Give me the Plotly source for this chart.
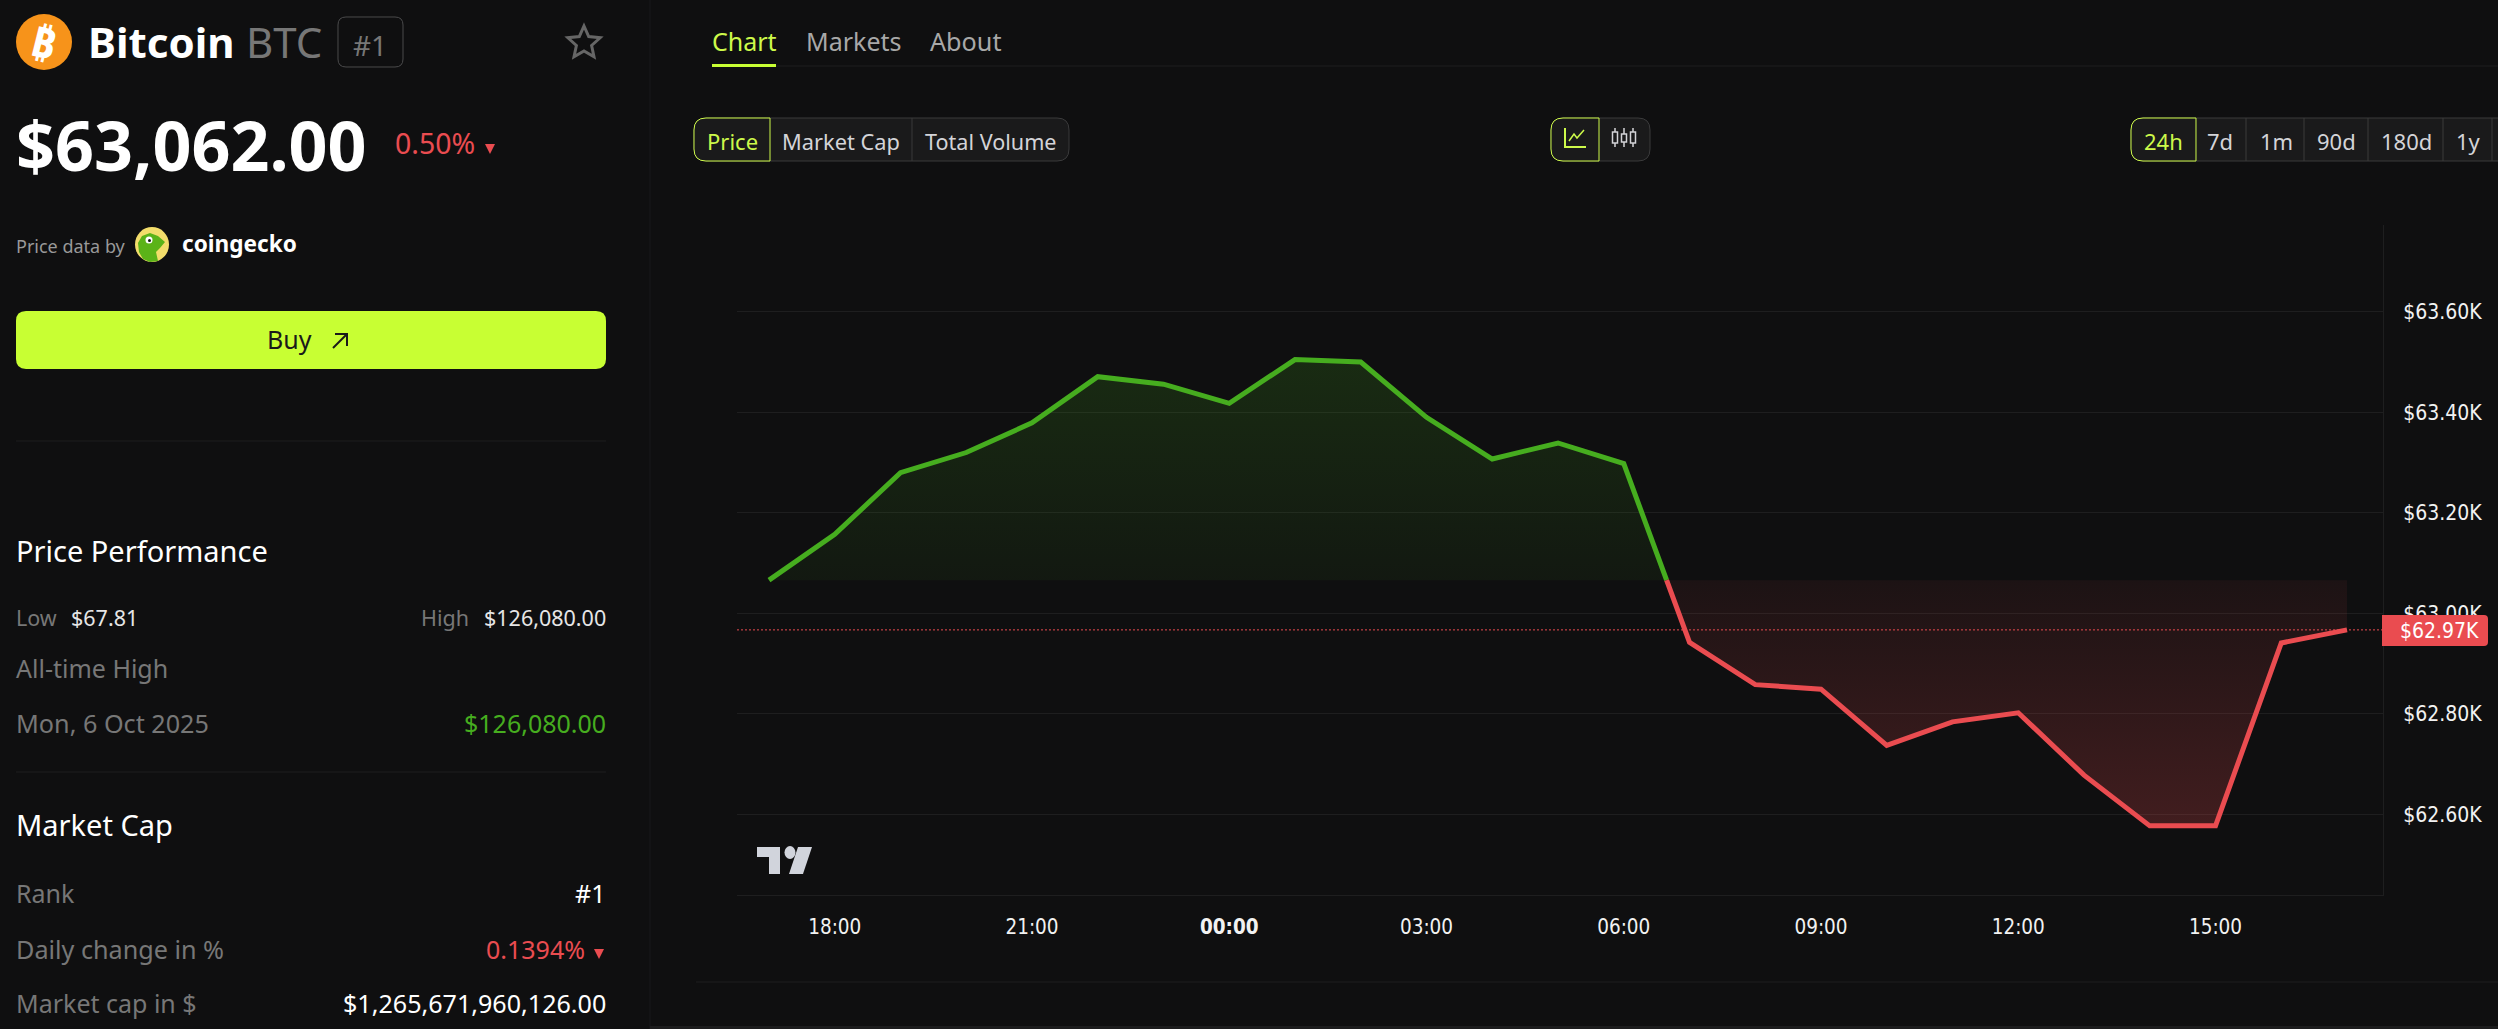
import numpy as np
import pandas as pd
import plotly.graph_objects as go

# ---------- data ----------
start_time = "2026-03-10 17:00"
prices = [63066, 63157, 63280, 63320, 63379, 63471, 63456, 63418, 63505, 63500,
          63390, 63307, 63339, 63298, 62942, 62858, 62849, 62737, 62784, 62802,
          62678, 62577, 62577, 62941, 62967]
baseline = 63066
y_ticks = [62600, 62800, 63000, 63200, 63400, 63600]
y_labels = ["$62.60K", "$62.80K", "$63.00K", "$63.20K", "$63.40K", "$63.60K"]
x_ticks = ["2026-03-10 18:00", "2026-03-10 21:00", "2026-03-11 00:00", "2026-03-11 03:00",
           "2026-03-11 06:00", "2026-03-11 09:00", "2026-03-11 12:00", "2026-03-11 15:00"]
x_labels = ["18:00", "21:00", "<b>00:00</b>", "03:00", "06:00", "09:00", "12:00", "15:00"]
last_label = "$62.97K"

# ---------- palette ----------
BG = "#0f0f10"
GREEN = "#46ad1f"
RED = "#ea4c50"
LIME = "#c8ff33"
LIME_TXT = "#cdf94a"
LINE = "#1e1e1f"
BTN = "#1a1a1b"
BTN_B = "#3a3a3b"
GREY = "#777777"
SANS = "Noto Sans"
TV = "DejaVu Sans Condensed"

W, H = 2498, 1029
L, R, T, B = 737, 2383, 225, 895

times = pd.date_range(start_time, periods=len(prices), freq="h")
vals = np.array(prices, dtype=float)
idx = int(np.argmax(vals[1:] < baseline)) + 1
frac = (vals[idx - 1] - baseline) / (vals[idx - 1] - vals[idx])
cross = times[idx - 1] + (times[idx] - times[idx - 1]) * frac

x_up = list(times[:idx]) + [cross]
y_up = list(vals[:idx]) + [baseline]
x_dn = [cross] + list(times[idx:])
y_dn = [baseline] + list(vals[idx:])

fig = go.Figure()
fig.add_trace(go.Scatter(x=x_up, y=[baseline] * len(x_up), mode="lines",
                         line=dict(width=0, color=BG), showlegend=False, hoverinfo="skip"))
fig.add_trace(go.Scatter(x=x_up, y=y_up, mode="lines", line=dict(color=GREEN, width=5),
                         fill="tonexty",
                         fillgradient=dict(type="vertical", start=baseline, stop=max(prices),
                                           colorscale=[[0, "rgba(70,172,30,0.06)"], [1, "rgba(70,172,30,0.18)"]]),
                         showlegend=False, hoverinfo="skip"))
fig.add_trace(go.Scatter(x=x_dn, y=[baseline] * len(x_dn), mode="lines",
                         line=dict(width=0, color=BG), showlegend=False, hoverinfo="skip"))
fig.add_trace(go.Scatter(x=x_dn, y=y_dn, mode="lines", line=dict(color=RED, width=5),
                         fill="tonexty",
                         fillgradient=dict(type="vertical", start=min(prices), stop=baseline,
                                           colorscale=[[0, "rgba(234,76,80,0.23)"], [1, "rgba(234,76,80,0.06)"]]),
                         showlegend=False, hoverinfo="skip"))


def px(x):
    return (x - L) / (R - L)


def py(y):
    return (B - y) / (B - T)


shapes, notes = [], []


def text(s, x, y, size, color="#ffffff", anchor="left", bold=False, family=SANS, angle=0):
    notes.append(dict(text=f"<b>{s}</b>" if bold else s, x=px(x), y=py(y), xref="paper", yref="paper",
                      xanchor=anchor, yanchor="middle", showarrow=False, textangle=angle,
                      font=dict(family=family, size=size, color=color), borderpad=0, borderwidth=0))


def path(points, close=False, fill=None, stroke=None, width=1):
    d = "M " + " L ".join(f"{px(a):.6f},{py(b):.6f}" for a, b in points) + (" Z" if close else "")
    shapes.append(dict(type="path", path=d, xref="paper", yref="paper", layer="above",
                       fillcolor=fill or "rgba(0,0,0,0)",
                       line=dict(color=stroke or "rgba(0,0,0,0)", width=width if stroke else 0)))


def rrect(x0, y0, x1, y1, rl=0, rr=0, fill=None, stroke=None, width=1):
    X0, X1, Y0, Y1 = px(x0), px(x1), py(y0), py(y1)
    kx, ky = 1 / (R - L), 1 / (B - T)
    d = (f"M {X0 + rl * kx:.6f},{Y0:.6f} L {X1 - rr * kx:.6f},{Y0:.6f} "
         f"Q {X1:.6f},{Y0:.6f} {X1:.6f},{Y0 - rr * ky:.6f} L {X1:.6f},{Y1 + rr * ky:.6f} "
         f"Q {X1:.6f},{Y1:.6f} {X1 - rr * kx:.6f},{Y1:.6f} L {X0 + rl * kx:.6f},{Y1:.6f} "
         f"Q {X0:.6f},{Y1:.6f} {X0:.6f},{Y1 + rl * ky:.6f} L {X0:.6f},{Y0 - rl * ky:.6f} "
         f"Q {X0:.6f},{Y0:.6f} {X0 + rl * kx:.6f},{Y0:.6f} Z")
    shapes.append(dict(type="path", path=d, xref="paper", yref="paper", layer="above",
                       fillcolor=fill or "rgba(0,0,0,0)",
                       line=dict(color=stroke or "rgba(0,0,0,0)", width=width if stroke else 0)))


def circle(cx, cy, rx, ry=None, fill=None):
    ry = ry or rx
    shapes.append(dict(type="circle", xref="paper", yref="paper", layer="above",
                       x0=px(cx - rx), x1=px(cx + rx), y0=py(cy + ry), y1=py(cy - ry),
                       fillcolor=fill, line=dict(width=0)))


def hline(x0, x1, y, color=LINE, width=1):
    path([(x0, y), (x1, y)], stroke=color, width=width)


def tri(cx, cy, color=RED):
    path([(cx - 5, cy - 5), (cx + 5, cy - 5), (cx, cy + 5)], close=True, fill=color)


# ---------- sidebar ----------
path([(650, 0), (650, 1029)], stroke="#19191a", width=1)
circle(44, 42, 28, fill="#f7931a")
text("₿", 44, 41, 42, "#ffffff", "center", True, angle=14)
text("Bitcoin", 88, 42, 42, "#ffffff", bold=True)
text("BTC", 246, 42, 42, GREY)
rrect(338, 17, 403, 67, 8, 8, stroke="#4a4a4b", width=1)
text("#1", 370, 45, 28, GREY, "center")
star = []
for k in range(10):
    r = 17 if k % 2 == 0 else 8
    a = -np.pi / 2 + k * np.pi / 5
    star.append((584 + r * np.cos(a), 43 + r * np.sin(a)))
path(star, close=True, stroke="#666666", width=3)

text("$63,062.00", 16, 144, 68.2, "#ffffff", bold=True)
text("0.50%", 395, 143, 28.5, RED)
tri(490, 149)

text("Price data by", 16, 246, 18, "#999999")
circle(152, 244.5, 17, 17.5, fill="#f3dd6b")
path([(139, 252), (138, 243), (142, 236), (150, 233), (158, 236), (165, 242), (160, 248), (156, 252),
      (158, 261), (150, 262), (143, 259)], close=True, fill="#5bb318")
circle(149, 240, 3.5, fill="#ffffff")
circle(149.5, 240.5, 1.5, fill="#111111")
text("coingecko", 182, 243, 22.6, "#ffffff", bold=True)

rrect(16, 311, 606, 369, 10, 10, fill=LIME)
text("Buy", 289, 339, 25, "#1a1a1a", "center")
path([(333, 348), (347, 334)], stroke="#1a1a1a", width=2)
path([(335, 334), (347, 334), (347, 346)], stroke="#1a1a1a", width=2)
hline(16, 606, 441)

text("Price Performance", 16, 550, 29)
text("Low", 16, 617, 21.5, GREY)
text("$67.81", 71, 617, 21.5, "#e6e6e6")
text("High", 469, 617, 21.5, GREY, "right")
text("$126,080.00", 606, 617, 21.5, "#e6e6e6", "right")
text("All-time High", 16, 668, 25, GREY)
text("Mon, 6 Oct 2025", 16, 723, 25.2, GREY)
text("$126,080.00", 606, 723, 25, GREEN, "right")
hline(16, 606, 772)
text("Market Cap", 16, 824, 29)
text("Rank", 16, 893, 25, GREY)
text("#1", 605, 893, 25, "#ffffff", "right")
text("Daily change in %", 16, 949, 25.2, GREY)
text("0.1394%", 585, 949, 25, RED, "right")
tri(599, 954)
text("Market cap in $", 16, 1003, 25, GREY)
text("$1,265,671,960,126.00", 606, 1003, 25.1, "#ffffff", "right")

# ---------- tabs ----------
text("Chart", 712, 41, 25, LIME_TXT)
text("Markets", 806, 41, 25, "#a8a8a8")
text("About", 930, 41, 25.2, "#a8a8a8")
hline(712, 2498, 66)
path([(712, 65.5), (776, 65.5)], stroke=LIME, width=3)

# ---------- button groups ----------
rrect(694, 118, 1069, 161, 12, 12, fill=BTN, stroke=BTN_B)
path([(912, 118), (912, 161)], stroke=BTN_B)
rrect(694, 118, 770, 161, 12, 0, fill=BTN, stroke=LIME_TXT)
text("Price", 732, 141, 22, LIME_TXT, "center")
text("Market Cap", 841, 141, 21.8, "#d4d4d8", "center")
text("Total Volume", 991, 141, 21.6, "#d4d4d8", "center")

rrect(1551, 118, 1650, 161, 12, 12, fill=BTN, stroke=BTN_B)
rrect(1551, 118, 1599, 161, 12, 0, fill=BTN, stroke=LIME_TXT)
path([(1565, 128), (1565, 147), (1586, 147)], stroke=LIME_TXT, width=2)
path([(1569, 141), (1574, 134), (1577, 138), (1584, 130)], stroke=LIME_TXT, width=1.5)
for cx, top, bot in [(1615, 132, 143), (1624, 134, 142), (1633, 132, 143)]:
    rrect(cx - 2.5, top, cx + 2.5, bot, stroke="#d4d4d8", width=1.5)
    path([(cx, 128), (cx, top)], stroke="#d4d4d8", width=1.5)
    path([(cx, bot), (cx, 147)], stroke="#d4d4d8", width=1.5)

rrect(2131, 118, 2540, 161, 12, 0, fill=BTN, stroke=BTN_B)
for xd in [2246, 2304, 2368, 2443, 2492]:
    path([(xd, 118), (xd, 161)], stroke=BTN_B)
rrect(2131, 118, 2196, 161, 12, 0, fill=BTN, stroke=LIME_TXT)
for lab, xc, col in [("24h", 2163, LIME_TXT), ("7d", 2220, "#d4d4d8"), ("1m", 2276, "#d4d4d8"),
                     ("90d", 2336, "#d4d4d8"), ("180d", 2406, "#d4d4d8"), ("1y", 2468, "#d4d4d8")]:
    text(lab, xc, 141, 22, col, "center")

# ---------- chart extras ----------
shapes.append(dict(type="line", xref="paper", yref="y", x0=0, x1=1, y0=prices[-1], y1=prices[-1],
                   layer="above", line=dict(color="rgba(234,76,80,1)", width=1, dash="2px,2px")))
rrect(2382, 615, 2488, 646, 0, 4, fill=RED)
text(last_label, 2439, 631, 21, "#ffffff", "center", family=TV)

# TradingView mark
TVC = "#d1d4dc"
path([(757, 847), (780, 847), (780, 874), (769, 874), (769, 857), (757, 857)], close=True, fill=TVC)
circle(790, 852.5, 5.5, 6.5, fill=TVC)
path([(798, 847), (812, 847), (803, 874), (789, 874)], close=True, fill=TVC)

hline(696, 2498, 982)
path([(650, 1027.5), (2498, 1027.5)], stroke="#1c1c1d", width=3)

# ---------- layout ----------
fig.update_layout(
    width=W, height=H, autosize=False, paper_bgcolor=BG, plot_bgcolor=BG,
    margin=dict(l=L, r=W - R, t=T, b=H - B, pad=0), showlegend=False, hovermode=False,
    shapes=shapes, annotations=notes,
    font=dict(family=TV, color="#f2f2f2", size=21),
    xaxis=dict(type="date", range=["2026-03-10 16:30:48", "2026-03-11 17:32:50"],
               tickmode="array", tickvals=x_ticks, ticktext=x_labels, showgrid=False, zeroline=False,
               showline=True, linecolor=LINE, linewidth=1, ticks="", ticklabelstandoff=13,
               tickfont=dict(family=TV, size=20.5, color="#f2f2f2")),
    yaxis=dict(side="right", range=[62439.4, 63772.8], tickmode="array", tickvals=y_ticks, ticktext=y_labels,
               showgrid=True, gridcolor="#1e1e1f", gridwidth=1, zeroline=False,
               showline=True, linecolor=LINE, linewidth=1, ticks="", ticklabelstandoff=15,
               tickfont=dict(family=TV, size=21, color="#f2f2f2")),
)

fig.write_html("out.html", config={"displayModeBar": False, "staticPlot": True},
               post_script="document.body.style.margin='0';document.body.style.background='#0f0f10';document.documentElement.style.overflow='hidden';")
